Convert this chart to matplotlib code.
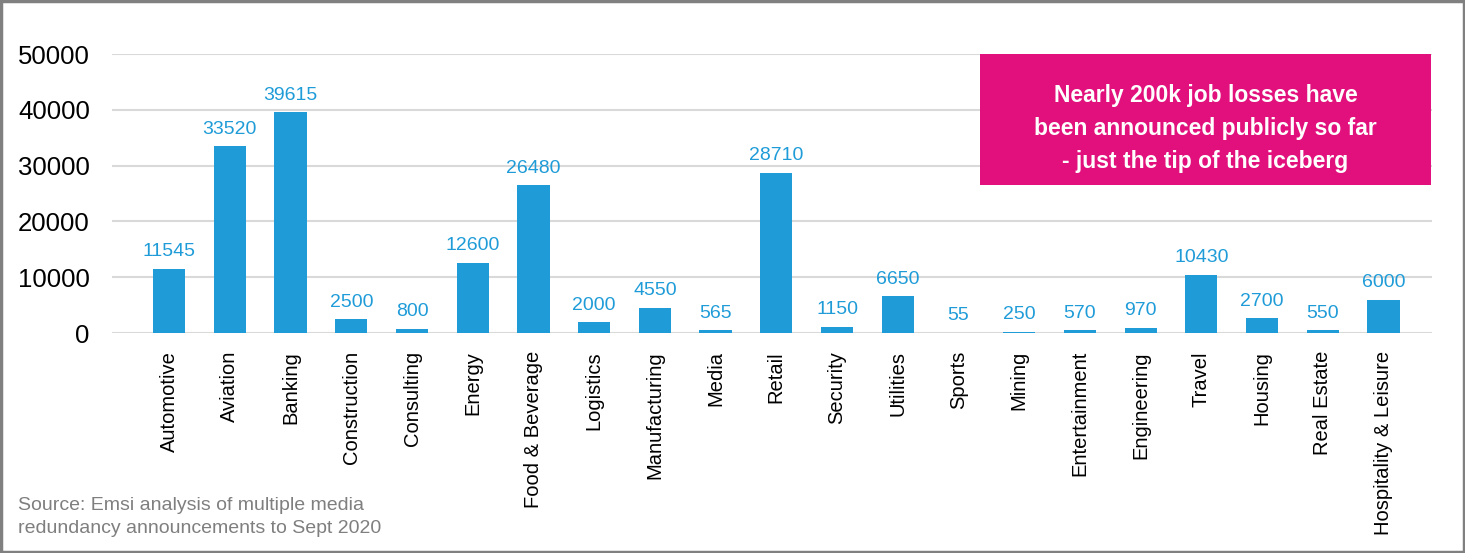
import matplotlib.pyplot as plt
from matplotlib.patches import Rectangle

plt.rcParams['font.family'] = ['Liberation Sans', 'DejaVu Sans']

sectors = ['Automotive', 'Aviation', 'Banking', 'Construction', 'Consulting', 'Energy',
           'Food & Beverage', 'Logistics', 'Manufacturing', 'Media', 'Retail', 'Security',
           'Utilities', 'Sports', 'Mining', 'Entertainment', 'Engineering', 'Travel',
           'Housing', 'Real Estate', 'Hospitality & Leisure']
job_losses = [11545, 33520, 39615, 2500, 800, 12600, 26480, 2000, 4550, 565, 28710,
              1150, 6650, 55, 250, 570, 970, 10430, 2700, 550, 6000]
y_ticks = [0, 10000, 20000, 30000, 40000, 50000]

bar_col = '#1f9cd8'
pink = '#e2107c'

fig = plt.figure(figsize=(14.65, 5.53), dpi=100)
ax = fig.add_axes([0.0765, 0.3978, 0.901, 0.5045])

x = list(range(len(sectors)))
bars = ax.bar(x, job_losses, width=0.53, color=bar_col, zorder=2)
for xi, v in zip(x, job_losses):
    ax.annotate(str(v), (xi, v), xytext=(0, 6), textcoords='offset points',
                ha='center', va='bottom', fontsize=14, color=bar_col)

ax.set_xlim(-0.94, 20.8)
ax.set_ylim(0, 50000)
ax.set_yticks(y_ticks)
ax.set_yticklabels([str(t) for t in y_ticks], fontsize=18.5)
ax.set_xticks(x)
ax.set_xticklabels(sectors, rotation=90, fontsize=14.5, va='top', ha='center')
ax.tick_params(axis='y', length=0, pad=16)
ax.tick_params(axis='x', length=0, pad=13)
ax.grid(axis='y', color='#d9d9d9', linewidth=1.5, zorder=0)
ax.set_axisbelow(True)
for s in ax.spines.values():
    s.set_visible(False)

# call-out box
ax.add_patch(Rectangle((0.6576, 0.530), 0.3417, 0.470, transform=ax.transAxes,
                       facecolor=pink, edgecolor='none', zorder=3))
ax.text(0.8284, 0.733,
        'Nearly 200k job losses have\nbeen announced publicly so far\n- just the tip of the iceberg',
        transform=ax.transAxes, ha='center', va='center', color='white',
        fontsize=16.5, fontweight='bold', linespacing=1.53, zorder=4)

fig.text(0.0123, 0.065, 'Source: Emsi analysis of multiple media\nredundancy announcements to Sept 2020',
         ha='left', va='center', fontsize=14, color='#7f7f7f', linespacing=1.4)

# outer frame
fig.patches.append(Rectangle((0.001, 0.002), 0.998, 0.996, transform=fig.transFigure,
                             fill=False, edgecolor='#808080', linewidth=2.5))

fig.savefig('out.png', dpi=100)
